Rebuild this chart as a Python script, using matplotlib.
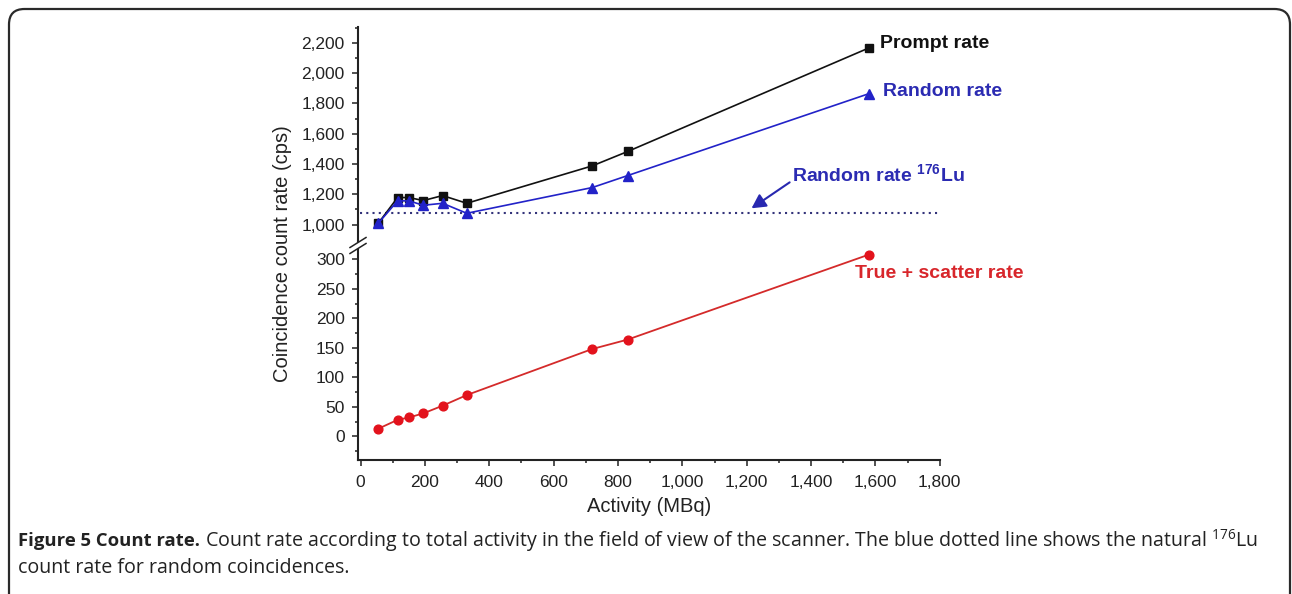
import matplotlib
matplotlib.use("Agg")
import matplotlib.pyplot as plt
from matplotlib.patches import FancyBboxPatch, Polygon
from matplotlib.lines import Line2D
from matplotlib.ticker import FixedLocator, FuncFormatter

plt.rcParams["font.family"] = ["Liberation Sans", "DejaVu Sans"]
plt.rcParams["mathtext.fontset"] = "custom"
plt.rcParams["mathtext.bf"] = "Liberation Sans:bold"
plt.rcParams["mathtext.rm"] = "Open Sans"

# Activity in the field of view (MBq)
activity = [55, 115, 150, 195, 255, 330, 720, 830, 1580]
# Coincidence count rates (cps)
prompt_rate = [1009, 1179, 1179, 1159, 1192, 1141, 1388, 1483, 2167]
random_rate = [1009, 1157, 1157, 1128, 1141, 1075, 1245, 1324, 1865]
true_scatter_rate = [13, 28, 32, 39, 52, 70, 148, 164, 308]
lu176_random_rate = 1080

x_ticks = [0, 200, 400, 600, 800, 1000, 1200, 1400, 1600, 1800]
upper_ticks = [1000, 1200, 1400, 1600, 1800, 2000, 2200]
lower_ticks = [0, 50, 100, 150, 200, 250, 300]

BLACK = "#111111"
BLUE = "#2222c8"
BLUE_TXT = "#2b2bb2"
RED = "#e3121c"
RED_TXT = "#d8262b"
INK = "#222222"

W_PX, H_PX = 1292, 594
fig = plt.figure(figsize=(W_PX / 100, H_PX / 100), dpi=100)


def fx(px):
    return px / W_PX


def fy(py):
    return 1 - py / H_PX


left_px, right_px = 358.0, 939.8
top_px, join_px, bottom_px = 27.0, 246.0, 460.0

ax_top = fig.add_axes([fx(left_px), fy(join_px), fx(right_px - left_px), (join_px - top_px) / H_PX])
ax_bot = fig.add_axes([fx(left_px), fy(bottom_px), fx(right_px - left_px), (bottom_px - join_px) / H_PX])

thousands = FuncFormatter(lambda v, p: f"{int(v):,}")

for ax in (ax_top, ax_bot):
    ax.set_xlim(-8, 1800)
    for s in ("top", "right"):
        ax.spines[s].set_visible(False)
    ax.spines["left"].set_linewidth(1.5)
    ax.spines["bottom"].set_linewidth(1.5)
    ax.spines["left"].set_color(INK)
    ax.spines["bottom"].set_color(INK)
    ax.tick_params(axis="both", which="major", direction="out", length=4.5, width=1.1,
                   labelsize=12.5, color=INK, labelcolor=INK, pad=5)
    ax.tick_params(axis="both", which="minor", direction="out", length=2.5, width=1.1, color=INK)
    ax.patch.set_alpha(0)

# upper segment
ax_top.set_ylim(859, 2305)
ax_top.spines["bottom"].set_visible(False)
ax_top.tick_params(axis="x", which="both", bottom=False, labelbottom=False)
ax_top.yaxis.set_major_locator(FixedLocator(upper_ticks))
ax_top.yaxis.set_minor_locator(FixedLocator([t + 100 for t in upper_ticks]))
ax_top.yaxis.set_major_formatter(thousands)

# lower segment
ax_bot.set_ylim(-40, 322.5)
ax_bot.yaxis.set_major_locator(FixedLocator(lower_ticks))
ax_bot.yaxis.set_minor_locator(FixedLocator([t - 25 for t in lower_ticks]))
ax_bot.xaxis.set_major_locator(FixedLocator(x_ticks))
ax_bot.xaxis.set_minor_locator(FixedLocator([t + 100 for t in x_ticks[:-1]]))
ax_bot.xaxis.set_major_formatter(thousands)
ax_bot.tick_params(axis="x", which="major", pad=6)

# data
ax_top.axhline(lu176_random_rate, xmin=0.004, xmax=1.0, color="#33337a",
               lw=1.5, linestyle=(0, (1, 2.0)), zorder=1)
ax_top.plot(activity, prompt_rate, color=BLACK, lw=1.2, marker="s", ms=6, zorder=3, clip_on=False)
ax_top.plot(activity, random_rate, color=BLUE, lw=1.2, marker="^", ms=7.5, zorder=4, clip_on=False)
ax_bot.plot(activity, true_scatter_rate, color="#d42a2a", lw=1.3, marker="o", ms=6.3,
            markerfacecolor=RED, markeredgecolor=RED, zorder=3, clip_on=False)

# curve labels
ax_top.annotate("Prompt rate", (activity[-1], prompt_rate[-1]), xytext=(8, 3),
                textcoords="offset points", ha="left", va="center",
                fontsize=14, fontweight="bold", color=BLACK)
ax_top.annotate("Random rate", (activity[-1], random_rate[-1]), xytext=(10, 1.5),
                textcoords="offset points", ha="left", va="center",
                fontsize=14, fontweight="bold", color=BLUE_TXT)
ax_bot.annotate("True + scatter rate", (activity[-1], true_scatter_rate[-1]), xytext=(-10, -13.5),
                textcoords="offset points", ha="left", va="center",
                fontsize=14, fontweight="bold", color=RED_TXT)
ax_top.annotate(r"Random rate $^{\mathbf{176}}$Lu", xy=(1215, 1108), xytext=(1342, 1329),
                textcoords="data", ha="left", va="center",
                fontsize=14, fontweight="bold", color=BLUE_TXT,
                arrowprops=dict(arrowstyle="-|>,head_length=0.6,head_width=0.32",
                                color="#2828b0", lw=1.5, shrinkA=0, shrinkB=0,
                                relpos=(0.0, 0.25)))

# axis titles
fig.text(fx(283), fy(254), "Coincidence count rate (cps)", rotation=90,
         ha="center", va="center", fontsize=14.5, color=INK)
fig.text(fx(649), fy(507), "Activity (MBq)", ha="center", va="center",
         fontsize=14.5, color=INK)

# axis break marks
gap = Polygon([(fx(350), fy(247.5)), (fx(366), fy(237.5)), (fx(366), fy(243.5)), (fx(350), fy(253.5))],
              closed=True, transform=fig.transFigure, facecolor="white", edgecolor="none", zorder=5)
fig.add_artist(gap)
for dy in (0, 6):
    fig.add_artist(Line2D([fx(350), fx(366)], [fy(247.5 + dy), fy(237.5 + dy)],
                          transform=fig.transFigure, color=INK, lw=1.1, zorder=6))

# rounded frame
frame = FancyBboxPatch((fx(9), fy(610)), fx(1290 - 9), (610 - 9) / H_PX,
                       boxstyle="round,pad=0,rounding_size=0.012",
                       transform=fig.transFigure, facecolor="none",
                       edgecolor="#2a2a2a", lw=1.6, mutation_aspect=W_PX / H_PX, clip_on=False)
fig.add_artist(frame)

# caption
cap_font = ["Open Sans", "DejaVu Sans"]
renderer = fig.canvas.get_renderer()
bold_part = fig.text(fx(18), fy(541), "Figure 5 Count rate.", ha="left", va="center",
                     fontsize=13.3, fontweight="bold", family=cap_font, color=INK)
bb = bold_part.get_window_extent(renderer)
fig.text(bb.x1 / W_PX + fx(5), fy(541),
         "Count rate according to total activity in the field of view of the scanner. "
         r"The blue dotted line shows the natural $^{\mathrm{176}}$Lu",
         ha="left", va="center", fontsize=14.1, family=cap_font, color=INK)
fig.text(fx(18), fy(568), "count rate for random coincidences.", ha="left", va="center",
         fontsize=14.1, family=cap_font, color=INK)

fig.savefig("out.png", dpi=100, facecolor="white")
